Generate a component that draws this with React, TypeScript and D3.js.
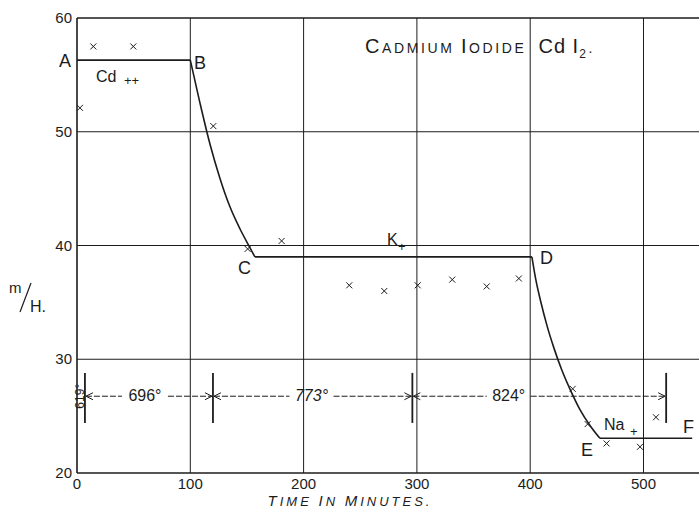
import React from "react";
import * as d3 from "d3";

// axis ticks
const xTicks = [0, 100, 200, 300, 400, 500];
const yTicks = [20, 30, 40, 50, 60];

// fitted line pieces (time in minutes, m/H)
const plateauAB: [number, number][] = [[0, 56.3], [100, 56.3]];
const decayBC: [number, number][] = [
  [100, 56.3], [108.6, 52.5], [117.4, 48.9], [126.2, 45.9], [135, 43.4],
  [143.9, 41.45], [152.7, 39.8], [157, 39.0],
];
const plateauCD: [number, number][] = [[157, 39.0], [401.5, 39.0]];
const decayDE: [number, number][] = [
  [401.5, 39.0], [405, 36.97], [409.4, 35.03], [414.7, 33.0], [420.9, 31.0],
  [427.9, 29.05], [435.9, 27.2], [443.8, 25.6], [452.6, 24.2], [461.5, 23.05],
];
const plateauEF: [number, number][] = [[461.5, 23.05], [543, 23.05]];

// observed points (crosses)
const obsTime = [2.6, 14.4, 49.7, 120.3, 150.6, 180.6, 240.3, 271.2, 300.7, 331.2, 361.6, 390, 437.5, 450.7, 467.4, 496.9, 511];
const obsValue = [52.1, 57.5, 57.5, 50.5, 39.7, 40.4, 36.5, 36.0, 36.5, 37.0, 36.4, 37.1, 27.4, 24.3, 22.6, 22.3, 24.9];

// temperature bands
const bandEdges = [7, 120, 296, 520];
const bandLabels = ["619°", "696°", "773°", "824°"];
const bandLabelAt = [2.6, 60, 207, 381];
const bandLevel = 26.75;

const W = 699;
const H = 508;
const left = 77;
const top = 18;
const bottom = 473;

const x = d3.scaleLinear().domain([0, 100]).range([left, 190.3]);
const y = d3.scaleLinear().domain([20, 60]).range([bottom, top]);

const ink = "#1c1c1c";
const font = "Liberation Sans, Arial, sans-serif";

const straight = d3.line<[number, number]>().x((d) => x(d[0])).y((d) => y(d[1]));
const smooth = d3
  .line<[number, number]>()
  .x((d) => x(d[0]))
  .y((d) => y(d[1]))
  .curve(d3.curveMonotoneX);

const Cross: React.FC<{ cx: number; cy: number }> = ({ cx, cy }) => (
  <path
    d={`M${cx - 3},${cy - 3}L${cx + 3},${cy + 3}M${cx - 3},${cy + 3}L${cx + 3},${cy - 3}`}
    stroke={ink}
    strokeWidth={1}
  />
);

const App: React.FC = () => {
  const ay = y(bandLevel);
  const textHalf = [0, 21, 20, 20];

  return (
    <svg
      width={W}
      height={H}
      style={{ position: "absolute", left: 0, top: 0, background: "#fff" }}
      fontFamily={font}
    >
      {/* grid */}
      {xTicks.map((t) => (
        <line key={"gx" + t} x1={x(t)} x2={x(t)} y1={top} y2={bottom} stroke={ink} strokeWidth={t === 0 ? 1.6 : 1} />
      ))}
      {yTicks.map((t) => (
        <line key={"gy" + t} x1={left} x2={W} y1={y(t)} y2={y(t)} stroke={ink} strokeWidth={t === 20 || t === 60 ? 1.5 : 1} />
      ))}

      {/* tick labels */}
      {yTicks.map((t) => (
        <text key={"ly" + t} x={left - 5} y={y(t) + 5} textAnchor="end" fontSize={15} fill={ink}>
          {t}
        </text>
      ))}
      {xTicks.map((t) => (
        <text key={"lx" + t} x={x(t)} y={489} textAnchor="middle" fontSize={15} fill={ink}>
          {t}
        </text>
      ))}
      <text x={350} y={506} textAnchor="middle" fontSize={13} fontStyle="italic" letterSpacing={3} fill={ink}>
        <tspan fontSize={15}>T</tspan>IME <tspan fontSize={15}>I</tspan>N <tspan fontSize={15}>M</tspan>INUTES.
      </text>

      {/* m/H */}
      <text x={9} y={293} fontSize={15} fill={ink}>m</text>
      <line x1={20} y1={312} x2={31} y2={283} stroke={ink} strokeWidth={1.2} />
      <text x={30} y={312} fontSize={16} fill={ink}>H.</text>

      {/* title */}
      <text x={365} y={53} fill={ink} letterSpacing={2.6}>
        <tspan fontSize={20}>C</tspan>
        <tspan fontSize={14}>ADMIUM </tspan>
        <tspan fontSize={20}>I</tspan>
        <tspan fontSize={14}>ODIDE</tspan>
        <tspan fontSize={20} dx={12} letterSpacing={1}>Cd I</tspan>
        <tspan fontSize={12} dy={5}>2</tspan>
        <tspan fontSize={14} dy={-5}>.</tspan>
      </text>

      {/* fitted curve */}
      <g fill="none" stroke={ink} strokeWidth={1.6}>
        <path d={straight(plateauAB) ?? ""} />
        <path d={smooth(decayBC) ?? ""} />
        <path d={straight(plateauCD) ?? ""} />
        <path d={smooth(decayDE) ?? ""} />
        <path d={straight(plateauEF) ?? ""} />
      </g>

      {/* observations */}
      {obsTime.map((t, i) => (
        <Cross key={"o" + i} cx={x(t)} cy={y(obsValue[i])} />
      ))}

      {/* point labels */}
      <g fill={ink} fontSize={18}>
        <text x={59} y={67}>A</text>
        <text x={194} y={69}>B</text>
        <text x={238} y={274}>C</text>
        <text x={540} y={264}>D</text>
        <text x={581} y={456}>E</text>
        <text x={683} y={433}>F</text>
      </g>
      <g fill={ink} fontSize={16}>
        <text x={96} y={82}>Cd</text>
        <text x={124} y={85} fontSize={13}>++</text>
        <text x={387} y={245}>K</text>
        <text x={398} y={251} fontSize={13}>+</text>
        <text x={604} y={430}>Na</text>
        <text x={630} y={436} fontSize={13}>+</text>
      </g>

      {/* temperature bands */}
      {bandEdges.map((e, i) => (
        <line key={"be" + i} x1={x(e)} x2={x(e)} y1={y(28.8)} y2={y(24.4)} stroke={ink} strokeWidth={1.8} />
      ))}
      {bandEdges.slice(0, -1).map((e, i) => {
        const j = i + 1;
        const a = x(e);
        const b = x(bandEdges[j]);
        const c = x(bandLabelAt[j]);
        const h = textHalf[j];
        return (
          <g key={"band" + j} stroke={ink} strokeWidth={1} fill="none">
            <line x1={a + 1} x2={c - h - 2} y1={ay} y2={ay} strokeDasharray="6,2" />
            <line x1={c + h + 2} x2={b - 1} y1={ay} y2={ay} strokeDasharray="6,2" />
            <path d={`M${a + 8},${ay - 3.5}L${a + 1},${ay}L${a + 8},${ay + 3.5}`} />
            <path d={`M${b - 8},${ay - 3.5}L${b - 1},${ay}L${b - 8},${ay + 3.5}`} />
          </g>
        );
      })}
      {bandLabels.map((l, i) =>
        i === 0 ? (
          <text
            key={"bl" + i}
            transform={`translate(${x(bandLabelAt[0]) + 4},${ay}) rotate(-90)`}
            textAnchor="middle"
            fontSize={12}
            fill={ink}
          >
            {l}
          </text>
        ) : (
          <text key={"bl" + i} x={x(bandLabelAt[i])} y={ay + 5} textAnchor="middle" fontSize={16} fill={ink} fontStyle={i === 2 ? "italic" : "normal"}>
            {l}
          </text>
        )
      )}
    </svg>
  );
};

export default App;
